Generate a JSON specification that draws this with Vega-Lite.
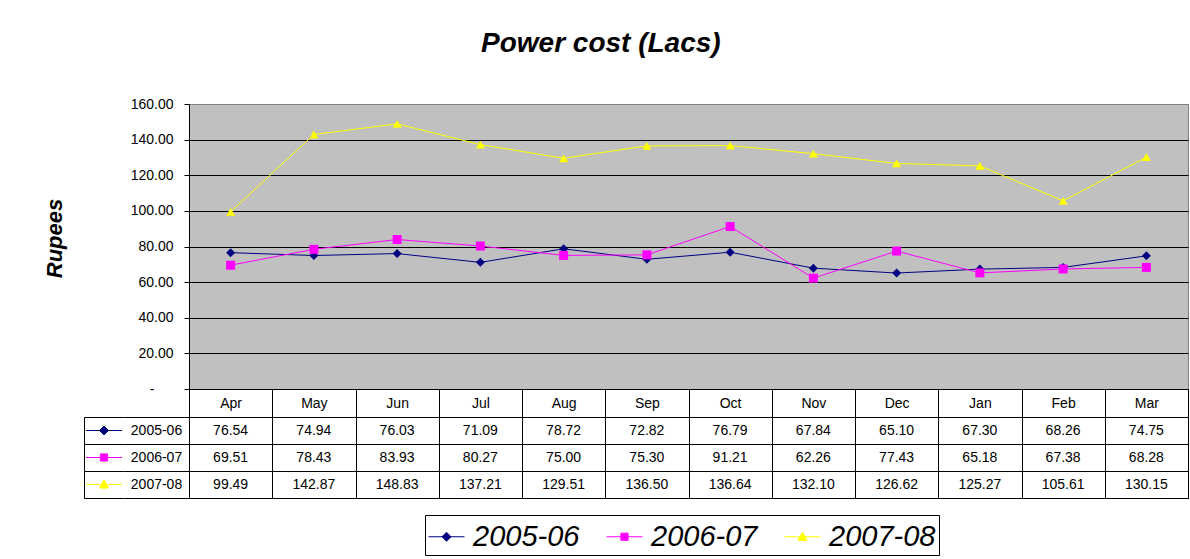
{
  "$schema": "https://vega.github.io/schema/vega-lite/v6.json",
  "background": "white",
  "padding": {"left": 42, "top": 29, "right": 0, "bottom": 0},
  "title": {"text": "Power cost (Lacs)", "font": "Liberation Sans", "fontSize": 28, "fontStyle": "italic", "fontWeight": "bold", "color": "black", "anchor": "start", "frame": "group", "dx": 397, "offset": 39},
  "datasets": {
    "costs": [
      {"month": "Apr", "series": "2005-06", "value": 76.54},
      {"month": "May", "series": "2005-06", "value": 74.94},
      {"month": "Jun", "series": "2005-06", "value": 76.03},
      {"month": "Jul", "series": "2005-06", "value": 71.09},
      {"month": "Aug", "series": "2005-06", "value": 78.72},
      {"month": "Sep", "series": "2005-06", "value": 72.82},
      {"month": "Oct", "series": "2005-06", "value": 76.79},
      {"month": "Nov", "series": "2005-06", "value": 67.84},
      {"month": "Dec", "series": "2005-06", "value": 65.10},
      {"month": "Jan", "series": "2005-06", "value": 67.30},
      {"month": "Feb", "series": "2005-06", "value": 68.26},
      {"month": "Mar", "series": "2005-06", "value": 74.75},
      {"month": "Apr", "series": "2006-07", "value": 69.51},
      {"month": "May", "series": "2006-07", "value": 78.43},
      {"month": "Jun", "series": "2006-07", "value": 83.93},
      {"month": "Jul", "series": "2006-07", "value": 80.27},
      {"month": "Aug", "series": "2006-07", "value": 75.00},
      {"month": "Sep", "series": "2006-07", "value": 75.30},
      {"month": "Oct", "series": "2006-07", "value": 91.21},
      {"month": "Nov", "series": "2006-07", "value": 62.26},
      {"month": "Dec", "series": "2006-07", "value": 77.43},
      {"month": "Jan", "series": "2006-07", "value": 65.18},
      {"month": "Feb", "series": "2006-07", "value": 67.38},
      {"month": "Mar", "series": "2006-07", "value": 68.28},
      {"month": "Apr", "series": "2007-08", "value": 99.49},
      {"month": "May", "series": "2007-08", "value": 142.87},
      {"month": "Jun", "series": "2007-08", "value": 148.83},
      {"month": "Jul", "series": "2007-08", "value": 137.21},
      {"month": "Aug", "series": "2007-08", "value": 129.51},
      {"month": "Sep", "series": "2007-08", "value": 136.50},
      {"month": "Oct", "series": "2007-08", "value": 136.64},
      {"month": "Nov", "series": "2007-08", "value": 132.10},
      {"month": "Dec", "series": "2007-08", "value": 126.62},
      {"month": "Jan", "series": "2007-08", "value": 125.27},
      {"month": "Feb", "series": "2007-08", "value": 105.61},
      {"month": "Mar", "series": "2007-08", "value": 130.15}
    ]
  },
  "columns": 3,
  "align": "each",
  "bounds": "flush",
  "spacing": {"row": 28, "column": 0},
  "resolve": {
    "scale": {"x": "independent", "y": "independent", "color": "independent", "shape": "independent", "fill": "independent", "stroke": "independent"},
    "legend": {"color": "independent", "shape": "independent", "fill": "independent", "stroke": "independent"}
  },
  "concat": [
    {"width": 40, "height": 285, "data": {"values": []}, "mark": {"type": "text", "text": ""}, "encoding": {}},
    {"width": 65, "height": 285, "data": {"values": []}, "mark": {"type": "text", "text": ""}, "encoding": {}},
    {
      "width": 999, "height": 285,
      "data": {"name": "costs"},
      "view": {"fill": "#C0C0C0", "stroke": "#808080", "strokeWidth": 1},
      "encoding": {
        "x": {"field": "month", "type": "ordinal", "sort": ["Apr","May","Jun","Jul","Aug","Sep","Oct","Nov","Dec","Jan","Feb","Mar"], "bandPosition": 0.5,
          "scale": {"type": "band", "paddingInner": 0, "paddingOuter": 0},
          "axis": {"title": null, "tickBand": "extent", "tickSize": 28, "tickColor": "black", "tickWidth": 1, "domainColor": "black", "labelAngle": 0, "labelFontSize": 14, "labelBaseline": "middle", "labelPadding": -14, "grid": false, "labelOverlap": false}},
        "y": {"field": "value", "type": "quantitative", "scale": {"domain": [0, 160], "nice": false, "zero": true},
          "axis": {"values": [0,20,40,60,80,100,120,140,160], "grid": true,
            "gridColor": {"condition": {"test": "datum.value === 160", "value": "#808080"}, "value": "black"},
            "gridWidth": 1, "domainColor": "black", "tickColor": "black", "tickSize": 5,
            "labelExpr": "datum.value === 0 ? '-' : format(datum.value, '.2f')",
            "labelFontSize": 14,
            "labelPadding": {"condition": {"test": "datum.value === 0", "value": 30}, "value": 11},
            "title": "Rupees", "titleFontSize": 22, "titleFontStyle": "italic", "titleFontWeight": "bold",
            "titleX": -128, "titleY": 134, "titleBaseline": "alphabetic", "titleAngle": -90, "titleAlign": "center"}},
        "color": {"field": "series", "type": "nominal", "scale": {"domain": ["2005-06","2006-07","2007-08"], "range": ["#000080","#FF00FF","#FFFF00"]}, "legend": null}
      },
      "layer": [
        {"mark": {"type": "line", "strokeWidth": 1}},
        {"mark": {"type": "point", "filled": true, "opacity": 1, "size": 81},
         "encoding": {"shape": {"field": "series", "type": "nominal", "scale": {"domain": ["2005-06","2006-07","2007-08"], "range": ["diamond","square","triangle-up"]}, "legend": null}}}
      ]
    },
    {
      "width": 40, "height": 81,
      "data": {"name": "costs"},
      "transform": [{"aggregate": [{"op": "count", "as": "n"}], "groupby": ["series"]}],
      "mark": {"type": "point", "filled": true, "opacity": 1, "size": 1296, "strokeWidth": 1},
      "encoding": {
        "y": {"field": "series", "type": "nominal", "bandPosition": 0.5, "scale": {"type": "band", "paddingInner": 0, "paddingOuter": 0},
          "axis": {"title": null, "labels": false, "ticks": false, "domain": true, "domainColor": "black", "grid": true, "gridColor": "black", "tickBand": "extent"}},
        "shape": {"field": "series", "type": "nominal",
          "scale": {"domain": ["2005-06","2006-07","2007-08"], "range": ["M-1,0L1,0M0,-0.25L0.25,0L0,0.25L-0.25,0Z", "M-1,0L1,0M-0.2,-0.2L0.2,-0.2L0.2,0.2L-0.2,0.2Z", "M-1,0L1,0M0,-0.25L0.25,0.2L-0.25,0.2Z"]},
          "legend": {"orient": "none", "legendX": 341, "legendY": 98, "direction": "horizontal", "title": null, "strokeColor": "black", "padding": 3, "symbolSize": 1296, "symbolStrokeWidth": 1, "labelFontSize": 29, "labelFontStyle": "italic", "labelFont": "Liberation Sans", "labelOffset": 8, "columnPadding": 24, "labelLimit": 300, "fillColor": "white", "labelColor": "black"}},
        "fill": {"field": "series", "type": "nominal", "scale": {"domain": ["2005-06","2006-07","2007-08"], "range": ["#000080","#FF00FF","#FFFF00"]},
          "legend": {"orient": "none", "legendX": 341, "legendY": 98, "direction": "horizontal", "title": null, "strokeColor": "black", "padding": 3, "symbolSize": 1296, "symbolStrokeWidth": 1, "labelFontSize": 29, "labelFontStyle": "italic", "labelFont": "Liberation Sans", "labelOffset": 8, "columnPadding": 24, "labelLimit": 300, "fillColor": "white", "labelColor": "black"}},
        "stroke": {"field": "series", "type": "nominal", "scale": {"domain": ["2005-06","2006-07","2007-08"], "range": ["#000080","#FF00FF","#FFFF00"]},
          "legend": {"orient": "none", "legendX": 341, "legendY": 98, "direction": "horizontal", "title": null, "strokeColor": "black", "padding": 3, "symbolSize": 1296, "symbolStrokeWidth": 1, "labelFontSize": 29, "labelFontStyle": "italic", "labelFont": "Liberation Sans", "labelOffset": 8, "columnPadding": 24, "labelLimit": 300, "fillColor": "white", "labelColor": "black"}}
      }
    },
    {
      "width": 65, "height": 81,
      "data": {"name": "costs"},
      "transform": [{"aggregate": [{"op": "count", "as": "n"}], "groupby": ["series"]}],
      "mark": {"type": "text", "fontSize": 14, "color": "black"},
      "encoding": {
        "y": {"field": "series", "type": "nominal", "bandPosition": 0.5, "scale": {"type": "band", "paddingInner": 0, "paddingOuter": 0},
          "axis": {"title": null, "labels": false, "ticks": false, "domain": false, "grid": true, "gridColor": "black", "tickBand": "extent"}},
        "text": {"field": "series", "type": "nominal"}
      }
    },
    {
      "width": 999, "height": 81,
      "data": {"name": "costs"},
      "view": {"stroke": "black", "strokeWidth": 1},
      "mark": {"type": "text", "fontSize": 14, "color": "black"},
      "encoding": {
        "x": {"field": "month", "type": "ordinal", "sort": ["Apr","May","Jun","Jul","Aug","Sep","Oct","Nov","Dec","Jan","Feb","Mar"], "bandPosition": 0.5,
          "scale": {"type": "band", "paddingInner": 0, "paddingOuter": 0},
          "axis": {"title": null, "labels": false, "ticks": false, "domain": false, "grid": true, "gridColor": "black", "tickBand": "extent"}},
        "y": {"field": "series", "type": "nominal", "bandPosition": 0.5, "scale": {"type": "band", "paddingInner": 0, "paddingOuter": 0},
          "axis": {"title": null, "labels": false, "ticks": false, "domain": false, "grid": true, "gridColor": "black", "tickBand": "extent"}},
        "text": {"field": "value", "type": "quantitative", "format": ".2f"}
      }
    }
  ],
  "config": {
    "font": "Liberation Sans",
    "view": {"stroke": null},
    "axis": {"labelFont": "Liberation Sans", "titleFont": "Liberation Sans", "labelColor": "black", "titleColor": "black", "gridOpacity": 1},
    "text": {"font": "Liberation Sans", "color": "black"},
    "legend": {"labelFont": "Liberation Sans"}
  }
}
